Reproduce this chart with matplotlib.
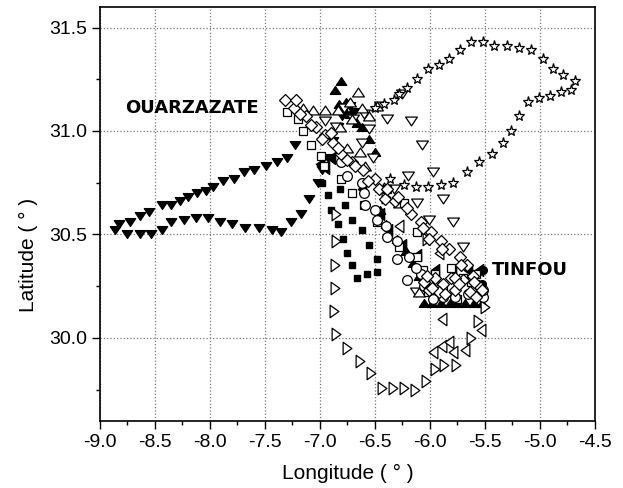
"""Balloon / trajectory positions between Ouarzazate and Tinfou (lon/lat scatter)."""

import matplotlib

matplotlib.use("Agg")
import matplotlib.pyplot as plt  # noqa: E402
from matplotlib.path import Path  # noqa: E402
from matplotlib.ticker import FormatStrFormatter, MultipleLocator  # noqa: E402

plt.rcParams["font.family"] = ["Liberation Sans", "DejaVu Sans"]

# --- data (degrees) -------------------------------------------------------
DOWN_FILLED_LON = [-7.23, -7.30, -7.39, -7.49, -7.60, -7.69, -7.78, -7.88, -7.97, -8.04,
                   -8.12, -8.20, -8.27, -8.35, -8.44, -8.55, -8.64, -8.73, -8.83, -8.86,
                   -8.75, -8.64, -8.54, -8.44, -8.35, -8.24, -8.13, -8.02, -7.91, -7.80,
                   -7.68, -7.55, -7.44, -7.35, -7.26, -7.17, -7.10, -7.02, -6.98, -6.93,
                   -6.88, -6.84, -6.80, -6.77, -6.73, -6.69]
DOWN_FILLED_LAT = [30.93, 30.87, 30.85, 30.83, 30.81, 30.80, 30.77, 30.76, 30.73, 30.71,
                   30.70, 30.68, 30.66, 30.64, 30.64, 30.61, 30.59, 30.56, 30.55, 30.52,
                   30.50, 30.50, 30.50, 30.52, 30.56, 30.57, 30.58, 30.58, 30.56, 30.55,
                   30.53, 30.53, 30.52, 30.51, 30.56, 30.60, 30.67, 30.75, 30.81, 30.87,
                   30.95, 31.02, 31.07, 31.11, 31.12, 31.09]

UP_FILLED_LON = [-6.86, -6.81, -6.83, -6.79, -6.76, -6.73, -6.70, -6.66, -6.62, -6.55,
                 -6.50, -6.45, -6.40, -6.30, -6.22, -6.15, -6.10, -6.05, -5.98, -5.90,
                 -5.82, -5.75, -5.68, -5.60, -5.53]
UP_FILLED_LAT = [31.20, 31.24, 31.13, 31.11, 31.14, 31.08, 31.06, 31.04, 31.02, 30.96,
                 30.90, 30.62, 30.55, 30.48, 30.42, 30.36, 30.30, 30.17, 30.17, 30.17,
                 30.17, 30.17, 30.17, 30.17, 30.17]

LEFT_FILLED_LON = [-7.00, -6.95, -6.90, -6.62, -6.45, -6.38, -6.25, -6.12, -5.95, -5.80,
                   -5.65, -5.55]
LEFT_FILLED_LAT = [30.84, 30.82, 30.87, 30.72, 30.60, 30.52, 30.45, 30.40, 30.33, 30.33,
                   30.33, 30.33]

CIRCLE_FILLED_LON = [-5.52, -5.52, -5.53]
CIRCLE_FILLED_LAT = [30.33, 30.20, 30.26]

SQUARE_FILLED_LON = [-6.98, -6.93, -6.90, -6.84, -6.79, -6.75, -6.71, -6.66, -6.57, -6.48,
                     -6.48, -6.55, -6.62, -6.71, -6.77, -6.82]
SQUARE_FILLED_LAT = [30.75, 30.69, 30.62, 30.55, 30.48, 30.41, 30.35, 30.29, 30.31, 30.32,
                     30.38, 30.45, 30.52, 30.57, 30.64, 30.72]

RIGHT_OPEN_LON = [-6.85, -6.85, -6.86, -6.86, -6.87, -6.85, -6.75, -6.64, -6.54, -6.44,
                  -6.34, -6.24, -6.14, -6.04, -5.95, -5.87, -5.76, -5.63, -5.56, -5.50,
                  -6.03, -6.40]
RIGHT_OPEN_LAT = [30.60, 30.47, 30.35, 30.24, 30.13, 30.02, 29.95, 29.89, 29.83, 29.76,
                  29.76, 29.76, 29.75, 29.79, 29.85, 29.87, 29.87, 30.00, 30.08, 30.15,
                  30.48, 30.68]

LEFT_OPEN_LON = [-5.89, -5.97, -5.89, -5.83, -5.79, -5.68, -5.54, -6.28, -5.92]
LEFT_OPEN_LAT = [30.09, 29.93, 29.96, 29.98, 29.93, 29.94, 30.04, 30.54, 30.41]

DOWN_OPEN_LON = [-6.39, -6.55, -6.62, -6.52, -6.17, -6.07, -5.97, -5.88, -5.79, -5.70,
                 -6.12, -6.01, -6.25, -6.45, -6.70, -6.85, -6.78, -6.60, -6.13, -6.95,
                 -6.20, -6.33]
DOWN_OPEN_LAT = [31.06, 31.01, 30.94, 30.87, 31.05, 30.93, 30.80, 30.67, 30.56, 30.44,
                 30.65, 30.57, 31.18, 31.12, 31.06, 31.02, 31.11, 31.08, 30.22, 31.05,
                 30.78, 30.72]

UP_OPEN_LON = [-6.65, -6.73, -6.84, -6.95, -7.06, -7.15, -6.62, -6.55, -6.48, -6.71,
               -6.82, -6.75, -6.64, -6.59, -6.42, -6.28, -6.10, -5.92, -5.78, -5.62]
UP_OPEN_LAT = [31.19, 31.14, 31.10, 31.10, 31.10, 31.11, 31.11, 31.07, 31.12, 31.06,
               31.02, 30.92, 30.90, 30.83, 30.73, 30.65, 30.22, 30.25, 30.22, 30.24]

STAR_LON = [-6.50, -6.42, -6.33, -6.28, -6.21, -6.12, -6.02, -5.92, -5.83, -5.73,
            -5.63, -5.52, -5.42, -5.30, -5.19, -5.08, -4.97, -4.88, -4.79, -4.68,
            -4.72, -4.81, -4.91, -5.01, -5.11, -5.19, -5.26, -5.34, -5.44, -5.55,
            -5.66, -5.79, -5.90, -6.02, -6.13, -6.24, -6.36]
STAR_LAT = [31.11, 31.13, 31.15, 31.18, 31.21, 31.25, 31.30, 31.32, 31.35, 31.39,
            31.43, 31.43, 31.41, 31.41, 31.40, 31.39, 31.35, 31.30, 31.27, 31.24,
            31.20, 31.19, 31.17, 31.16, 31.14, 31.07, 31.00, 30.94, 30.89, 30.85,
            30.80, 30.75, 30.74, 30.73, 30.73, 30.74, 30.77]

SQUARE_OPEN_LON = [-7.30, -7.20, -7.15, -7.08, -6.99, -6.96, -6.81, -6.71, -6.60, -6.48,
                   -6.39, -6.24, -6.28, -6.12, -6.12, -6.06, -5.95, -5.81, -5.70, -5.58,
                   -6.02, -5.88, -5.75, -5.63]
SQUARE_OPEN_LAT = [31.09, 31.06, 31.00, 30.93, 30.88, 30.83, 30.77, 30.70, 30.64, 30.56,
                   30.72, 30.65, 30.44, 30.51, 30.39, 30.33, 30.31, 30.34, 30.29, 30.31,
                   30.22, 30.25, 30.19, 30.27]

CIRCLE_OPEN_LON = [-6.81, -6.75, -6.62, -6.60, -6.59, -6.50, -6.48, -6.40, -6.39, -6.30,
                   -6.30, -6.19, -6.21, -6.08, -5.97, -5.88, -5.77, -5.65, -5.52, -5.52,
                   -6.13, -6.05]
CIRCLE_OPEN_LAT = [30.85, 30.78, 30.75, 30.70, 30.64, 30.62, 30.57, 30.54, 30.49, 30.47,
                   30.38, 30.39, 30.28, 30.31, 30.19, 30.20, 30.20, 30.21, 30.20, 30.23,
                   30.34, 30.25]

DIAMOND_LON = [-7.32, -7.24, -7.13, -7.04, -6.95, -6.88, -6.81, -6.71, -6.61, -6.50,
               -6.41, -6.32, -6.17, -6.08, -5.99, -5.90, -5.83, -5.73, -5.66, -5.95,
               -5.88, -5.81, -5.70, -5.61, -5.55, -6.01, -5.77, -5.64, -5.92, -6.05,
               -7.22, -7.18, -7.08, -6.98, -6.90, -6.84, -6.75, -6.68, -6.56, -6.46,
               -6.39, -6.29, -6.21, -6.06, -6.01, -5.89, -5.72, -5.77, -5.60, -5.53,
               -5.98, -5.86, -5.74, -5.58, -6.03]
DIAMOND_LAT = [31.15, 31.11, 31.07, 31.02, 30.98, 30.94, 30.89, 30.85, 30.81, 30.77,
               30.67, 30.66, 30.60, 30.56, 30.51, 30.47, 30.43, 30.39, 30.35, 30.29,
               30.26, 30.29, 30.28, 30.30, 30.25, 30.23, 30.23, 30.22, 30.22, 30.27,
               31.15, 31.08, 31.03, 30.96, 30.99, 30.92, 30.86, 30.83, 30.76, 30.72,
               30.72, 30.68, 30.63, 30.53, 30.48, 30.43, 30.35, 30.29, 30.27, 30.23,
               30.24, 30.21, 30.26, 30.20, 30.30]

OUARZAZATE_POS = (-8.77, 31.11)
TINFOU_POS = (-5.44, 30.33)


def _triangle(points):
    # closed path so open markers get all three edges
    return Path(points + [points[0]], closed=True)


# elongated triangles, as drawn in the original figure
TRI_DOWN_WIDE = _triangle([(-1, 0.75), (1, 0.75), (0, -0.75)])
TRI_UP_WIDE = _triangle([(-1, -0.75), (1, -0.75), (0, 0.75)])
TRI_RIGHT = _triangle([(-0.7, -1), (-0.7, 1), (0.7, 0)])
TRI_LEFT = _triangle([(0.7, -1), (0.7, 1), (-0.7, 0)])


def main() -> None:
    fig = plt.figure(figsize=(6.23, 4.88), dpi=100)
    ax = fig.add_axes([0.1605, 0.138, 0.7945, 0.848])

    filled = dict(color="black", linestyle="none")
    opened = dict(color="black", markerfacecolor="white", linestyle="none", markeredgewidth=0.9)

    ax.plot(SQUARE_FILLED_LON, SQUARE_FILLED_LAT, "s", markersize=4.5, **filled)
    ax.plot(DOWN_FILLED_LON, DOWN_FILLED_LAT, marker=TRI_DOWN_WIDE, markersize=7.4, **filled)
    ax.plot(UP_FILLED_LON, UP_FILLED_LAT, marker=TRI_UP_WIDE, markersize=7.4, **filled)
    ax.plot(LEFT_FILLED_LON, LEFT_FILLED_LAT, marker=TRI_LEFT, markersize=8.5, **filled)
    ax.plot(CIRCLE_FILLED_LON, CIRCLE_FILLED_LAT, "o", markersize=5.5, **filled)

    ax.plot(RIGHT_OPEN_LON, RIGHT_OPEN_LAT, marker=TRI_RIGHT, markersize=9, **opened)
    ax.plot(LEFT_OPEN_LON, LEFT_OPEN_LAT, marker=TRI_LEFT, markersize=9, **opened)
    ax.plot(DOWN_OPEN_LON, DOWN_OPEN_LAT, marker=TRI_DOWN_WIDE, markersize=8.5, **opened)
    ax.plot(UP_OPEN_LON, UP_OPEN_LAT, marker=TRI_UP_WIDE, markersize=8.5, **opened)
    ax.plot(STAR_LON, STAR_LAT, "*", markersize=8, **opened)
    ax.plot(SQUARE_OPEN_LON, SQUARE_OPEN_LAT, "s", markersize=6.3, **opened)
    ax.plot(CIRCLE_OPEN_LON, CIRCLE_OPEN_LAT, "o", markersize=7, **opened)
    ax.plot(DIAMOND_LON, DIAMOND_LAT, "D", markersize=6.6, **opened)

    ax.text(*OUARZAZATE_POS, "OUARZAZATE", family="DejaVu Sans", fontweight="bold",
            fontsize=13, ha="left", va="center")
    ax.text(*TINFOU_POS, "TINFOU", family="DejaVu Sans", fontweight="bold",
            fontsize=13, ha="left", va="center")

    ax.set_xlim(-9.0, -4.5)
    ax.set_ylim(29.6, 31.6)
    ax.xaxis.set_major_locator(MultipleLocator(0.5))
    ax.xaxis.set_minor_locator(MultipleLocator(0.25))
    ax.yaxis.set_major_locator(MultipleLocator(0.5))
    ax.yaxis.set_minor_locator(MultipleLocator(0.25))
    ax.xaxis.set_major_formatter(FormatStrFormatter("%.1f"))
    ax.yaxis.set_major_formatter(FormatStrFormatter("%.1f"))
    ax.grid(True, which="major", linestyle=":", color="#777777", linewidth=0.9)
    ax.set_axisbelow(True)
    ax.tick_params(which="both", direction="out", width=1.0, labelsize=14)
    ax.tick_params(which="major", length=5.5, pad=4)
    ax.tick_params(which="minor", length=3)
    for spine in ax.spines.values():
        spine.set_linewidth(1.2)

    ax.set_xlabel("Longitude ( \u00b0 )", fontsize=15)
    ax.set_ylabel("Latitude ( \u00b0 )", fontsize=15)
    ax.xaxis.set_label_coords(0.5, -0.105)
    ax.yaxis.set_label_coords(-0.125, 0.40)

    fig.savefig("out.png", dpi=100)


if __name__ == "__main__":
    main()
